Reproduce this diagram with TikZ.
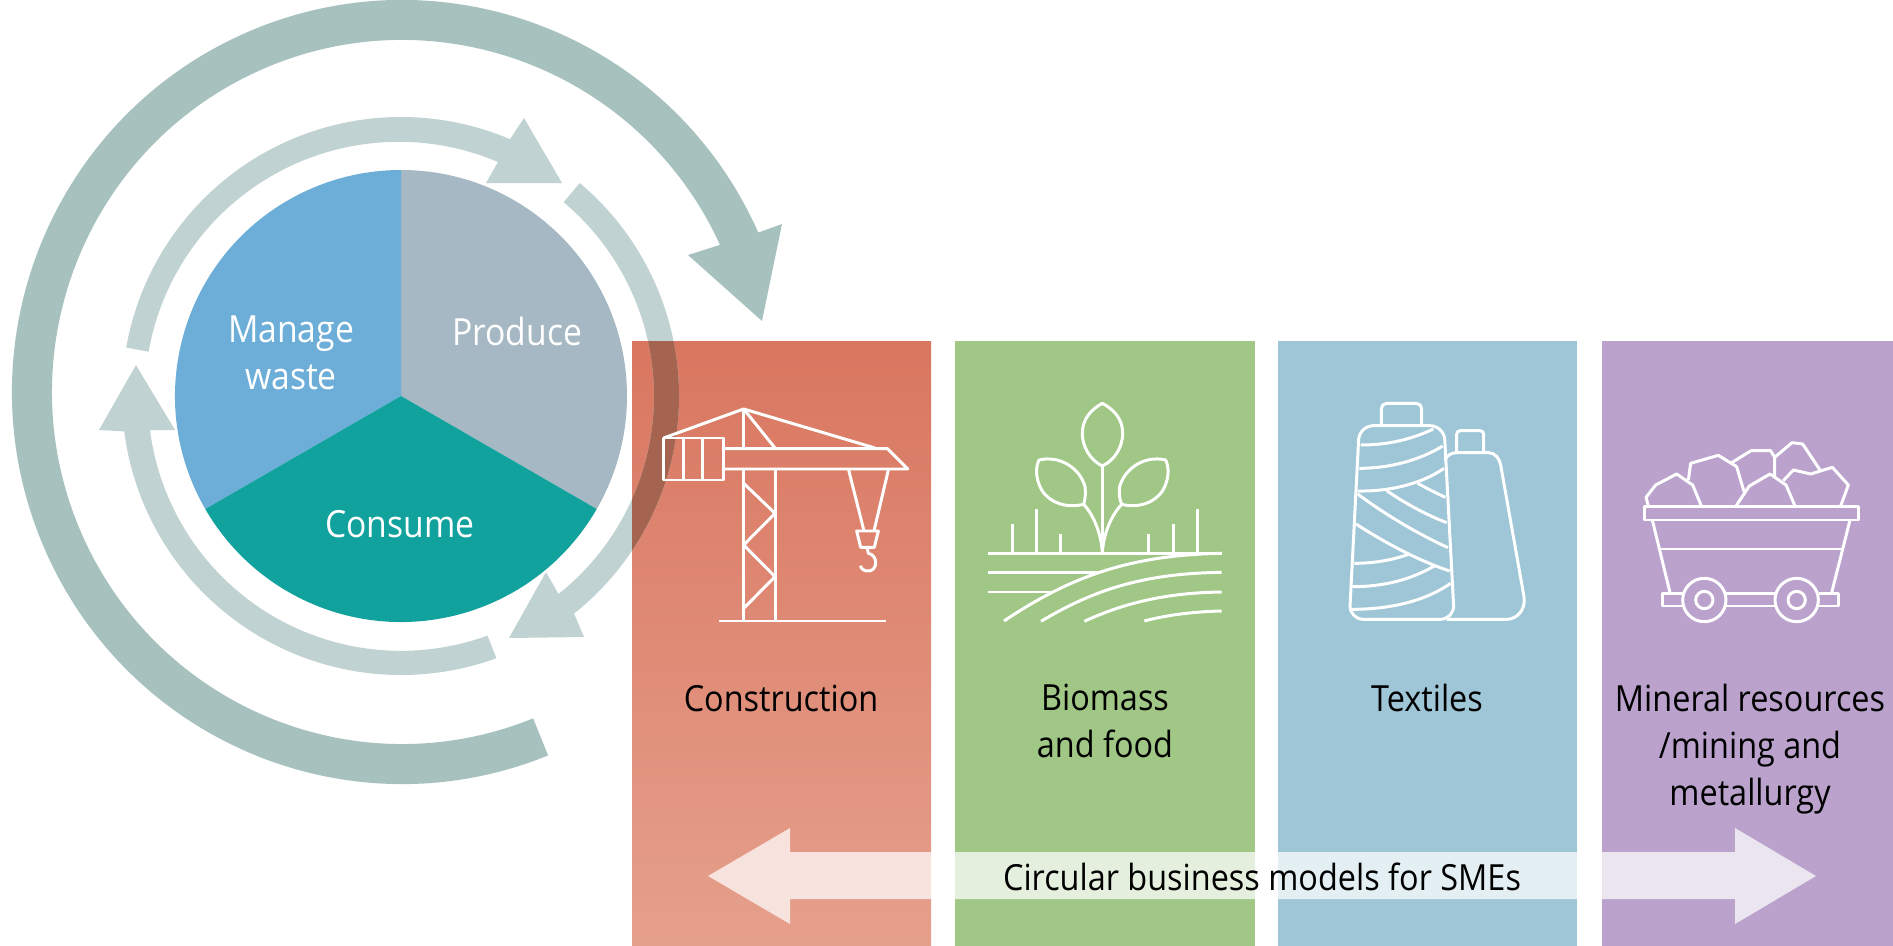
\documentclass[tikz,border=0pt]{standalone}
\usepackage{fontspec}
\setmainfont{Open Sans}[FakeStretch=0.9]
\usepackage{tikz}

\definecolor{outerring}{HTML}{A7C1BF}
\definecolor{innerring}{HTML}{C0D3D2}
\definecolor{ringdark}{HTML}{A5644F}
\definecolor{wasteblue}{HTML}{6DAED9}
\definecolor{producegrey}{HTML}{A5B8C3}
\definecolor{consumeteal}{HTML}{11A29E}
\definecolor{redtop}{HTML}{D97660}
\definecolor{redbottom}{HTML}{E5A08C}
\definecolor{foodgreen}{HTML}{A0C785}
\definecolor{textileblue}{HTML}{9EC6D6}
\definecolor{minepurple}{HTML}{BAA2CC}

\tikzset{
    icon/.style={draw=white, line width=1.7pt, line join=round},
    pielabel/.style={text=white, align=center, font=\fontsize{21.3}{26.6}\selectfont},
    sectorlabel/.style={text=black, align=center, font=\fontsize{20.5}{26.6}\selectfont},
}

% the ring piece that runs over the red column
\newcommand{\sidearrow}{(401,396) ++(-50:278) arc[start angle=-50, end angle=51.5, radius=278]
    -- (584,637) -- (509,638) -- (546,572)
    -- (558.5,594) arc[start angle=51.5, end angle=-50, radius=253] -- cycle}

\begin{document}
\begin{tikzpicture}[x=0.02cm, y=0.02cm, yscale=-1]
\useasboundingbox (0,0) rectangle (1893,946);
\coordinate (pie) at (401,396);

% big ring
\fill[outerring] (402,392) ++(68:390 and 392) arc[start angle=68, end angle=336, x radius=390, y radius=392]
    -- (782,224) -- (762,321) -- (688,255) -- (720,244.9)
    arc[start angle=335.3, end angle=68, x radius=350, y radius=352] -- cycle;

% columns
\shade[top color=redtop, bottom color=redbottom] (632,341) rectangle (931,946);
\fill[foodgreen] (955,341) rectangle (1255,946);
\fill[textileblue] (1278,341) rectangle (1577,946);
\fill[minepurple] (1602,341) rectangle (1893,946);

% pie
\fill[producegrey] (pie) -- ++(270:226) arc[start angle=270, end angle=390, radius=226] -- cycle;
\fill[wasteblue] (pie) -- ++(150:226) arc[start angle=150, end angle=270, radius=226] -- cycle;
\fill[consumeteal] (pie) -- ++(30:226) arc[start angle=30, end angle=150, radius=226] -- cycle;
\node[pielabel] (produce) at (517,331) {Produce};
\node[pielabel] (manage) at (291,353) {Manage\\waste};
\node[pielabel] (consume) at (400,524) {Consume};

% small ring
\fill[innerring] (pie) ++(190:279) arc[start angle=190, end angle=293, radius=279]
    -- (524,118) -- (562,183) -- (486,183) -- (498,162)
    arc[start angle=293, end angle=190, radius=254] -- cycle;
\fill[innerring] \sidearrow;
\fill[innerring] (pie) ++(70:279) arc[start angle=70, end angle=172.7, radius=279]
    -- (99,430) -- (136,365) -- (175,430) -- (150,430)
    arc[start angle=172.7, end angle=70, radius=253] -- cycle;
\begin{scope}
    \clip (632,341) rectangle (931,946);
    \fill[ringdark] \sidearrow;
\end{scope}

% crane
\begin{scope}[shift={(630,380)}, scale=1/3]
    \draw[icon] (101,174) rectangle (280,300);
    \draw[icon] (160,174) -- (160,300);
    \draw[icon] (216,174) -- (216,300);
    \draw[icon] (101,174) -- (341,87) -- (735,204);
    \draw[icon] (341,87) -- (341,206);
    \draw[icon] (341,87) -- (435,204);
    \draw[icon] (280,206) -- (772,206) -- (833,267) -- (280,267);
    \draw[icon] (341,267) -- (341,722);
    \draw[icon] (437,267) -- (437,722);
    \draw[icon] (267,723) -- (768,723);
    \draw[icon] (341,310) -- (435,400) -- (341,495) -- (435,590) -- (341,685);
    \draw[icon] (656,270) -- (702,453);
    \draw[icon] (775,270) -- (732,453);
    \draw[icon] (680,453) -- (745,453) -- (733,502) -- (692,502) -- cycle;
    \draw[icon] (712,505) -- (715,520) .. controls (745,525) and (745,575) .. (712,573)
        .. controls (700,572) and (692,565) .. (692,557);
\end{scope}

% plant
\begin{scope}[shift={(970,380)}, scale=1/3]
    \draw[icon] (54,520) -- (755,520);
    \draw[icon] (54,578) -- (388,578);
    \draw[icon] (54,636) -- (248,636);
    \draw[icon] (102,723) .. controls (300,590) and (480,525) .. (755,520);
    \draw[icon] (213,724) .. controls (370,630) and (520,580) .. (755,577);
    \draw[icon] (343,724) .. controls (470,665) and (600,638) .. (755,636);
    \draw[icon] (523,723) .. controls (590,705) and (670,695) .. (755,693);
    \foreach \x/\y in {126/432, 200/388, 272/461, 536/461, 609/432, 682/388}
        \draw[icon] (\x,\y) -- (\x,520);
    \draw[icon] (397,258) -- (397,520);
    \draw[icon] (397,520) .. controls (395,470) and (375,410) .. (341,373);
    \draw[icon] (397,520) .. controls (399,470) and (420,410) .. (455,373);
    \draw[icon] (397,70) .. controls (360,90) and (337,120) .. (337,160)
        .. controls (337,200) and (360,240) .. (397,258)
        .. controls (435,240) and (458,200) .. (458,160)
        .. controls (458,120) and (435,90) .. (397,70) -- cycle;
    \draw[icon] (207,240) .. controls (270,225) and (330,265) .. (345,320)
        .. controls (348,340) and (345,360) .. (341,373)
        .. controls (290,385) and (240,370) .. (215,330)
        .. controls (198,300) and (195,265) .. (207,240) -- cycle;
    \draw[icon] (587,240) .. controls (524,225) and (464,265) .. (449,320)
        .. controls (446,340) and (449,360) .. (455,373)
        .. controls (504,385) and (554,370) .. (579,330)
        .. controls (596,300) and (599,265) .. (587,240) -- cycle;
\end{scope}

% spools
\begin{scope}[shift={(1320,380)}, scale=1/3]
    \draw[icon, rounded corners=3pt] (184,137) -- (184,70) -- (305,70) -- (305,137);
    \draw[icon, rounded corners=8pt] (118,137) -- (372,137) -- (403,718) -- (88,718) -- cycle;
    \draw[icon, rounded corners=2pt] (410,218) -- (410,152) -- (491,152) -- (491,218);
    \draw[icon] (374,240) .. controls (382,225) and (395,218) .. (410,218) -- (505,218)
        .. controls (525,218) and (538,235) .. (542,255) -- (612,650)
        .. controls (618,690) and (590,718) .. (560,718) -- (380,718);
    \draw[icon] (122,195) .. controls (200,195) and (270,180) .. (340,147);
    \draw[icon] (118,265) .. controls (210,265) and (300,240) .. (368,198);
    \draw[icon] (113,333) .. controls (200,335) and (300,315) .. (372,265);
    \draw[icon] (293,310) .. controls (320,325) and (350,340) .. (376,352);
    \draw[icon] (200,332) .. controls (255,370) and (320,405) .. (380,428);
    \draw[icon] (113,342) .. controls (190,400) and (290,460) .. (384,503);
    \draw[icon] (108,432) .. controls (190,485) and (290,540) .. (389,573);
    \draw[icon] (103,550) .. controls (160,550) and (220,540) .. (268,522);
    \draw[icon] (97,620) .. controls (190,620) and (270,600) .. (343,558);
    \draw[icon] (95,688) .. controls (220,688) and (320,660) .. (392,610);
\end{scope}

% mine cart
\begin{scope}[shift={(1620,420)}, scale=1/3]
    \draw[icon] (72,260) rectangle (714,300);
    \draw[icon] (97,300) -- (150,518);
    \draw[icon] (690,300) -- (635,518);
    \draw[icon] (120,387) -- (665,387);
    \draw[icon] (188,520) -- (128,520) -- (128,558) -- (188,558);
    \draw[icon] (318,520) -- (466,520);
    \draw[icon] (318,558) -- (466,558);
    \draw[icon] (596,520) -- (656,520) -- (656,558) -- (596,558);
    \foreach \x in {253,530} {
        \draw[icon] (\x,540) circle[radius=65];
        \draw[icon] (\x,540) circle[radius=26];
    }
    \draw[icon] (244,258) -- (218,195) -- (170,162) -- (107,195) -- (78,232) -- (85,258);
    \draw[icon] (205,180) -- (212,130) -- (295,106) -- (350,140) -- (372,215);
    \draw[icon] (335,128) -- (393,92) -- (452,92) -- (464,112) -- (464,170);
    \draw[icon] (348,258) -- (388,198) -- (450,162) -- (498,195) -- (525,258);
    \draw[icon] (490,182) -- (520,150) -- (572,162) -- (637,142) -- (685,195) -- (662,258);
    \draw[icon] (464,112) -- (516,68) -- (548,72) -- (600,150);
\end{scope}

\node[sectorlabel] (construction) at (781,698) {Construction};
\node[sectorlabel, anchor=north] (biomass) at (1105,678) {Biomass\\and food};
\node[sectorlabel] (textiles) at (1427,698) {Textiles};
\node[sectorlabel, anchor=north] (mineral) at (1750,678) {Mineral resources\\/mining and\\metallurgy};

% band across the columns
\fill[white, opacity=0.72] (708,876) -- (790,828) -- (790,852) -- (1735,852) -- (1735,828)
    -- (1816,876) -- (1735,924) -- (1735,899) -- (790,899) -- (790,924) -- cycle;
\node[sectorlabel] (models) at (1262,877) {Circular business models for SMEs};
\end{tikzpicture}
\end{document}
